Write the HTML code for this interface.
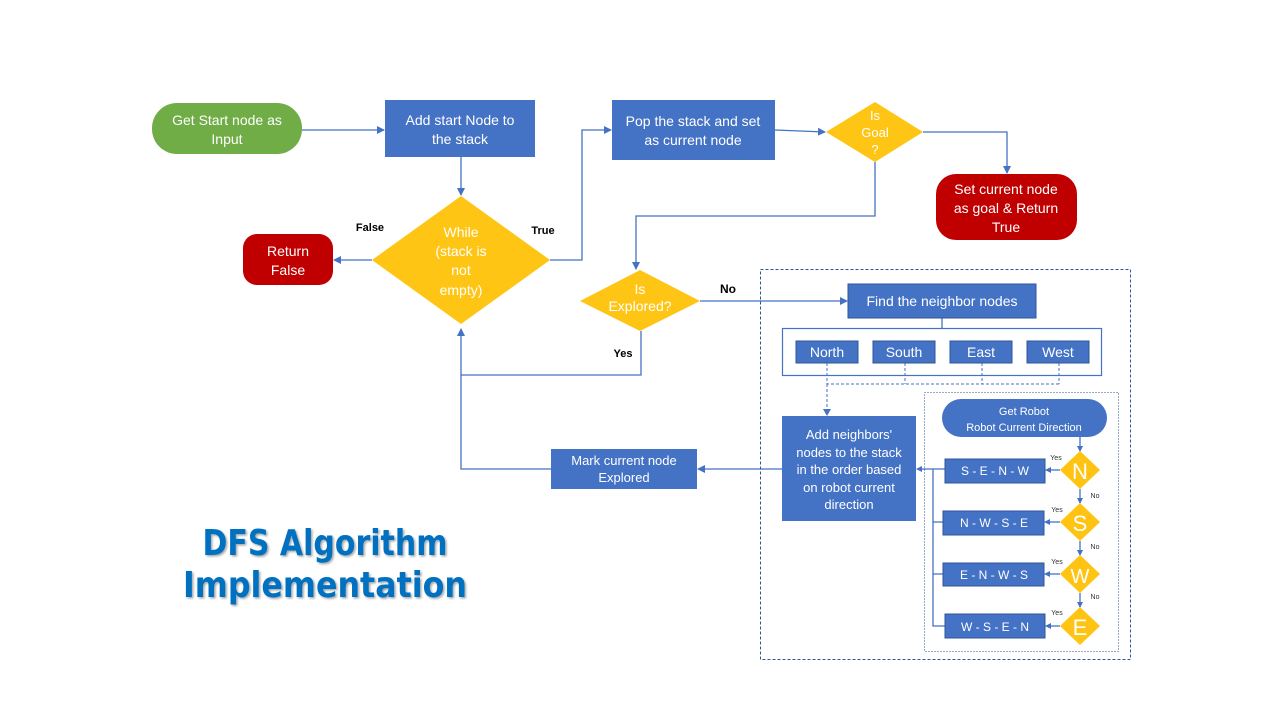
<!DOCTYPE html>
<html><head><meta charset="utf-8"><style>html,body{margin:0;padding:0;background:#fff}svg{display:block}</style></head>
<body>
<svg width="1280" height="720" viewBox="0 0 1280 720" xmlns="http://www.w3.org/2000/svg" font-family="Liberation Sans, sans-serif">
<defs>
<marker id="a" markerWidth="8" markerHeight="8" refX="7" refY="4" orient="auto" markerUnits="userSpaceOnUse"><path d="M0,0 L8,4 L0,8 Z" fill="#4472C4"/></marker>
<marker id="s" markerWidth="6" markerHeight="6" refX="5" refY="3" orient="auto" markerUnits="userSpaceOnUse"><path d="M0,0 L6,3 L0,6 Z" fill="#4472C4"/></marker>
<filter id="sh"><feDropShadow dx="1.5" dy="1.5" stdDeviation="1" flood-color="#000" flood-opacity="0.35"/></filter>
</defs>
<rect width="1280" height="720" fill="#fff"/>
<g stroke="#4472C4" stroke-width="1.3" fill="none">
<path d="M302,130 L384,130" marker-end="url(#a)"/>
<path d="M461,157 L461,195" marker-end="url(#a)"/>
<path d="M372,260 L334,260" marker-end="url(#a)"/>
<path d="M550,260 L582,260 L582,130 L611,130" marker-end="url(#a)"/>
<path d="M775,130 L825,132" marker-end="url(#a)"/>
<path d="M923,132 L1007,132 L1007,173" marker-end="url(#a)"/>
<path d="M875,162 L875,216 L636,216 L636,269" marker-end="url(#a)"/>
<path d="M700,301 L847,301" marker-end="url(#a)"/>
<path d="M641,331 L641,375 L461,375 L461,329" marker-end="url(#a)"/>
<path d="M551,469 L461,469 L461,375"/>
<path d="M782,469 L698,469" marker-end="url(#a)"/>
<path d="M942,318 L942,328"/>
<path d="M1080,437 L1080,451" marker-end="url(#s)"/>
<path d="M1080,489 L1080,503" marker-end="url(#s)"/>
<path d="M1080,541 L1080,555" marker-end="url(#s)"/>
<path d="M1080,593 L1080,607" marker-end="url(#s)"/>
<path d="M1060,470 L1046,470" marker-end="url(#s)"/>
<path d="M1060,522 L1045,522" marker-end="url(#s)"/>
<path d="M1060,574 L1045,574" marker-end="url(#s)"/>
<path d="M1060,626 L1046,626" marker-end="url(#s)"/>
<path d="M945,469 L917,469" marker-end="url(#s)"/>
<path d="M933,469 L933,626 L945,626 M933,522 L943,522 M933,574 L943,574"/>
</g>
<!-- dashed boxes -->
<rect x="760.5" y="269.5" width="370" height="390" fill="none" stroke="#2F5597" stroke-width="1" stroke-dasharray="3,2"/>
<rect x="924.5" y="392.5" width="194" height="259" fill="none" stroke="#2F5597" stroke-width="1" stroke-dasharray="1,2"/>
<rect x="782.5" y="328.5" width="319" height="47" fill="none" stroke="#4472C4" stroke-width="1.2"/>
<g stroke="#4472C4" stroke-width="1" fill="none" stroke-dasharray="3,2">
<path d="M827,363 L827,384 L1059,384 M905,363 L905,384 M982,363 L982,384 M1059,363 L1059,384"/>
<path d="M827,384 L827,410"/>
</g>
<path d="M823,409 L827,416 L831,409 Z" fill="#4472C4"/>
<!-- shapes -->
<rect x="152" y="103" width="150" height="51" rx="25" fill="#70AD47"/>
<rect x="385" y="100" width="150" height="57" fill="#4472C4"/>
<polygon points="461,196 550,260 461,324 372,260" fill="#FFC000" opacity="0.92"/>
<rect x="243" y="234" width="90" height="51" rx="14" fill="#C00000"/>
<rect x="612" y="100" width="163" height="60" fill="#4472C4"/>
<polygon points="875,102 923,132 875,162 826,132" fill="#FFC000" opacity="0.92"/>
<rect x="936" y="174" width="141" height="66" rx="20" fill="#C00000"/>
<polygon points="640,270 700,301 640,331 580,301" fill="#FFC000" opacity="0.92"/>
<rect x="848" y="284" width="188" height="34" fill="#4472C4" stroke="#2F5597"/>
<g fill="#4472C4" stroke="#2F5597" stroke-width="1">
<rect x="796" y="341" width="62" height="22"/><rect x="873" y="341" width="62" height="22"/>
<rect x="950" y="341" width="62" height="22"/><rect x="1027" y="341" width="62" height="22"/>
<rect x="945" y="459" width="100" height="24"/><rect x="943" y="511" width="101" height="24"/>
<rect x="943" y="563" width="101" height="23"/><rect x="945" y="614" width="100" height="24"/>
</g>
<rect x="782" y="416" width="134" height="105" fill="#4472C4"/>
<rect x="551" y="449" width="146" height="40" fill="#4472C4"/>
<rect x="942" y="399" width="165" height="38" rx="19" fill="#4472C4"/>
<g fill="#FFC000" opacity="0.92">
<polygon points="1080,451 1100,470 1080,489 1060,470"/>
<polygon points="1080,503 1100,522 1080,541 1060,522"/>
<polygon points="1080,555 1100,574 1080,593 1060,574"/>
<polygon points="1080,607 1100,626 1080,645 1060,626"/>
</g>
<!-- text -->
<g fill="#fff" font-size="14" text-anchor="middle">
<text x="227" y="125">Get Start node as</text><text x="227" y="144">Input</text>
<text x="460" y="125">Add start Node to</text><text x="460" y="144">the stack</text>
<text x="461" y="237">While</text><text x="461" y="256">(stack is</text><text x="461" y="275">not</text><text x="461" y="295">empty)</text>
<text x="288" y="256">Return</text><text x="288" y="275">False</text>
<text x="693" y="126">Pop the stack and set</text><text x="693" y="145">as current node</text>
<text x="875" y="120" font-size="13">Is</text><text x="875" y="137" font-size="13">Goal</text><text x="875" y="154" font-size="13">?</text>
<text x="1006" y="194">Set current node</text><text x="1006" y="213">as goal &amp; Return</text><text x="1006" y="232">True</text>
<text x="640" y="294">Is</text><text x="640" y="311">Explored?</text>
<text x="942" y="306">Find the neighbor nodes</text>
<text x="827" y="357">North</text><text x="904" y="357">South</text><text x="981" y="357">East</text><text x="1058" y="357">West</text>
<text x="849" y="439" font-size="13">Add neighbors'</text><text x="849" y="457" font-size="13">nodes to the stack</text><text x="849" y="474" font-size="13">in the order based</text><text x="849" y="492" font-size="13">on robot current</text><text x="849" y="509" font-size="13">direction</text>
<text x="624" y="465" font-size="13">Mark current node</text><text x="624" y="482" font-size="13">Explored</text>
<text x="1024" y="415" font-size="11">Get Robot</text><text x="1024" y="431" font-size="11">Robot Current Direction</text>
<text x="995" y="475" font-size="12">S - E - N - W</text><text x="994" y="527" font-size="12">N - W - S - E</text>
<text x="994" y="579" font-size="12">E - N - W - S</text><text x="995" y="631" font-size="12">W - S - E - N</text>
<text x="1080" y="479" font-size="22">N</text><text x="1080" y="531" font-size="22">S</text>
<text x="1080" y="583" font-size="20">W</text><text x="1080" y="635" font-size="22">E</text>
</g>
<g fill="#000" font-size="11" font-weight="bold" text-anchor="middle">
<text x="370" y="231">False</text><text x="543" y="234">True</text>
<text x="728" y="293" font-size="12">No</text><text x="623" y="357">Yes</text>
</g>
<g fill="#333" font-size="7" text-anchor="middle">
<text x="1056" y="460">Yes</text><text x="1095" y="498">No</text>
<text x="1057" y="512">Yes</text><text x="1095" y="549">No</text>
<text x="1057" y="564">Yes</text><text x="1095" y="599">No</text>
<text x="1057" y="615">Yes</text>
</g>
<g fill="#0070C0" font-family="DejaVu Sans, sans-serif" font-weight="bold" font-size="36" text-anchor="middle" filter="url(#sh)">
<text x="325" y="555" textLength="245" lengthAdjust="spacingAndGlyphs">DFS Algorithm</text>
<text x="325" y="597" textLength="284" lengthAdjust="spacingAndGlyphs">Implementation</text>
</g>
</svg>
</body></html>
